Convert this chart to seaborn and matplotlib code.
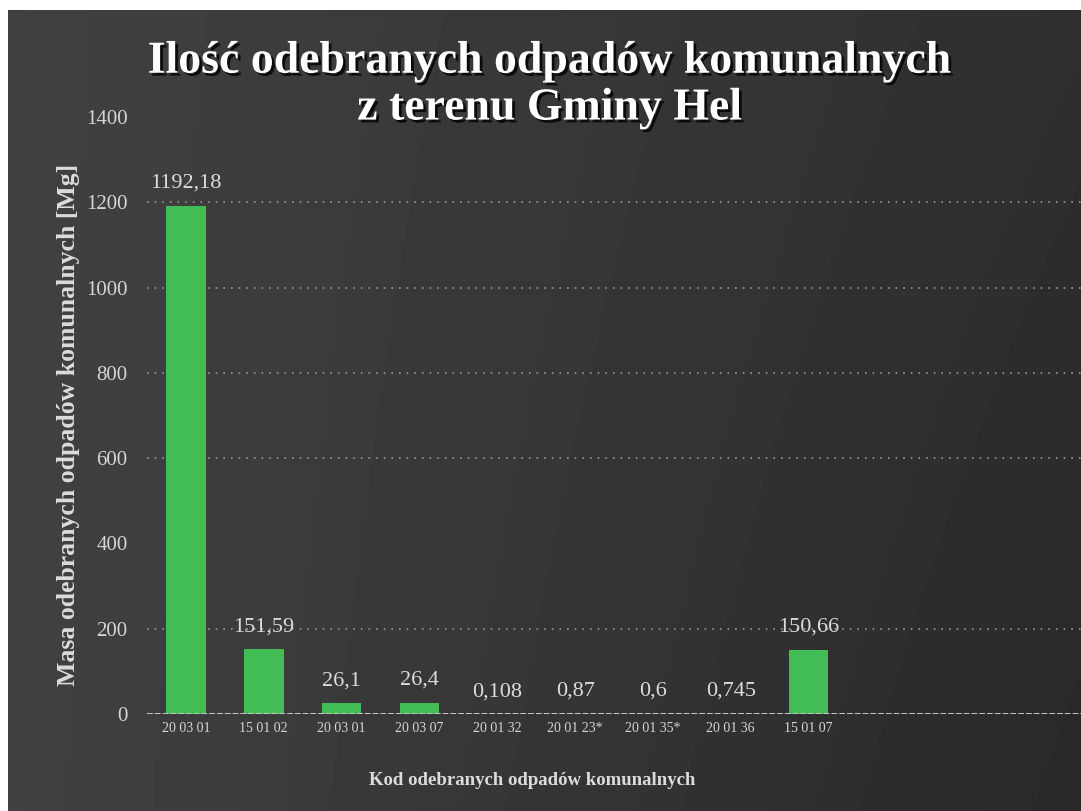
import matplotlib
matplotlib.use("Agg")
import matplotlib.pyplot as plt
import matplotlib.patheffects as pe
import seaborn as sns
import numpy as np
import pandas as pd

# dane
kody = ["20 03 01", "15 01 02", "20 03 01", "20 03 07", "20 01 32",
        "20 01 23*", "20 01 35*", "20 01 36", "15 01 07"]
masa = [1192.18, 151.59, 26.1, 26.4, 0.108, 0.87, 0.6, 0.745, 150.66]
etykiety = ["1192,18", "151,59", "26,1", "26,4", "0,108", "0,87", "0,6", "0,745", "150,66"]
yticks = [0, 200, 400, 600, 800, 1000, 1200, 1400]
siatka = [200, 600, 800, 1000, 1200]

df = pd.DataFrame({"poz": [str(i) for i in range(len(kody))], "masa": masa})

sns.set_style("dark")
plt.rcParams["font.family"] = ["Liberation Serif", "DejaVu Serif"]

fig = plt.figure(figsize=(10.81, 8.11), dpi=100)
fig.patch.set_facecolor("white")

# tlo z gradientem
bg = fig.add_axes([8 / 1081, 0, 1 - 8 / 1081, 1 - 10 / 811])
xx = np.linspace(0, 1, 300)
yy = np.linspace(0, 1, 200)
X, Y = np.meshgrid(xx, yy)
grad = 0.255 - 0.07 * X - 0.025 * Y * X
bg.imshow(grad, cmap="gray", vmin=0, vmax=1, aspect="auto", extent=[0, 1, 0, 1], origin="upper")
bg.set_axis_off()

ax = fig.add_axes([147 / 1081, 97 / 811, (1081 - 147) / 1081, (714 - 117) / 811])
ax.set_facecolor("none")
ax.patch.set_alpha(0)

sns.barplot(data=df, x="poz", y="masa", color="#42bd55", width=0.51,
            saturation=1, linewidth=0, edgecolor="none", ax=ax, zorder=3)

ax.set_xlim(-0.5, 11.5)
ax.set_ylim(0, 1400)
ax.set_yticks(yticks)
ax.set_yticklabels([str(t) for t in yticks], color="#d6d6d6", fontsize=15)
ax.set_xticks(range(len(kody)))
ax.set_xticklabels(kody, color="#d6d6d6", fontsize=10)
ax.tick_params(axis="both", length=0)
ax.tick_params(axis="y", pad=14)
ax.tick_params(axis="x", pad=6)

for t in siatka:
    ax.axhline(t, color="#a8a8a8", lw=1.1, ls=(0, (1, 4)), zorder=1)
ax.axhline(0, color="#c8c8c8", lw=1.4, ls=(0, (3, 1)), zorder=4)

for s in ax.spines.values():
    s.set_visible(False)

for i, (v, lab) in enumerate(zip(masa, etykiety)):
    ax.annotate(lab, (i, v), xytext=(0, 16), textcoords="offset points",
                ha="center", va="center", color="#dcdcdc", fontsize=16)

ax.set_xlabel("Kod odebranych odpadów komunalnych", color="#dcdcdc",
              fontsize=13.5, fontweight="bold")
ax.xaxis.set_label_coords(0.412, -0.097)
ax.set_ylabel("Masa odebranych odpadów komunalnych [Mg]", color="#dcdcdc",
              fontsize=18.5, fontweight="bold")
ax.yaxis.set_label_coords(-0.072, 0.485)

fig.text(0.509, 0.895, "Ilość odebranych odpadów komunalnych\nz terenu Gminy Hel",
         ha="center", va="center", color="white", fontsize=33, fontweight="bold",
         linespacing=1.15,
         path_effects=[pe.withSimplePatchShadow(offset=(2, -2), shadow_rgbFace="black", alpha=0.8)])

fig.savefig("out.png", dpi=100)
